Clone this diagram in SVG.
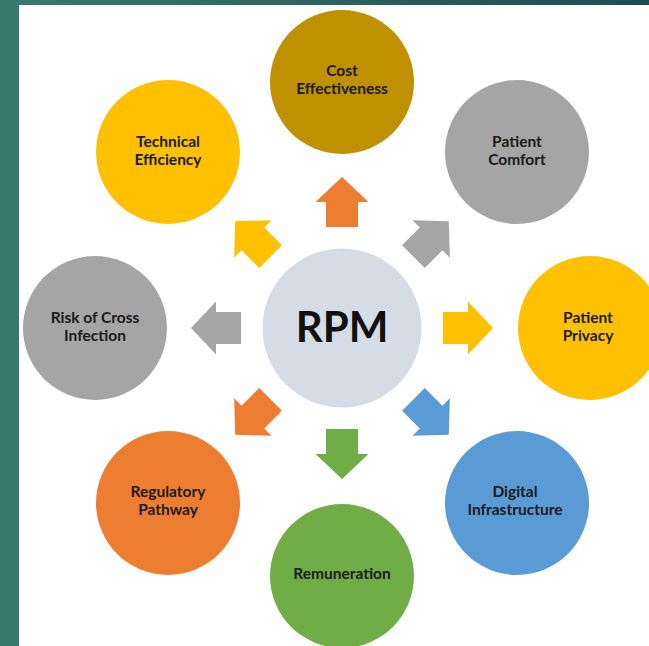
<svg xmlns="http://www.w3.org/2000/svg" width="649" height="646" viewBox="0 0 649 646">
<defs>
<linearGradient id="topband" x1="0" y1="0" x2="1" y2="0">
<stop offset="0" stop-color="#3a7a6e"/>
<stop offset="1" stop-color="#1e4b52"/>
</linearGradient>
<path id="arrow" d="M101,-16 L126,-16 L126,-26.5 L151,0 L126,26.5 L126,16 L101,16 Z"/>
</defs>
<style>
.lbl{font-family:Lato,"Open Sans","Liberation Sans",sans-serif;font-weight:bold;font-size:15.5px;fill:#1a1a1a;text-anchor:middle}
.big{font-family:Lato,"Open Sans","Liberation Sans",sans-serif;font-weight:bold;font-size:42px;fill:#111;text-anchor:middle}
</style>
<rect x="0" y="0" width="649" height="646" fill="#ffffff"/>
<rect x="0" y="0" width="649" height="5" fill="url(#topband)"/>
<rect x="0" y="0" width="19" height="646" fill="#3a7a6e"/>

<g id="connectors" transform="translate(342,328)">
<use href="#arrow" transform="rotate(-90)" fill="#ed7d31"/>
<use href="#arrow" transform="rotate(-45)" fill="#a5a5a5"/>
<use href="#arrow" transform="rotate(0)" fill="#ffc000"/>
<use href="#arrow" transform="rotate(45)" fill="#5b9bd5"/>
<use href="#arrow" transform="rotate(90)" fill="#70ad47"/>
<use href="#arrow" transform="rotate(135)" fill="#ed7d31"/>
<use href="#arrow" transform="rotate(180)" fill="#a5a5a5"/>
<use href="#arrow" transform="rotate(225)" fill="#ffc000"/>
</g>

<g id="rpm">
<circle cx="342" cy="328" r="79.5" fill="#d6dce5"/>
<text class="big" x="342" y="342">RPM</text>
</g>

<g id="cost-effectiveness">
<circle cx="342" cy="82" r="72" fill="#bf9000"/>
<text class="lbl" x="342" y="76">Cost</text>
<text class="lbl" x="342" y="94">Effectiveness</text>
</g>

<g id="patient-comfort">
<circle cx="517" cy="152" r="72" fill="#a5a5a5"/>
<text class="lbl" x="517" y="147">Patient</text>
<text class="lbl" x="517" y="165">Comfort</text>
</g>

<g id="patient-privacy">
<circle cx="590" cy="328" r="72" fill="#ffc000"/>
<text class="lbl" x="588" y="323">Patient</text>
<text class="lbl" x="588" y="341">Privacy</text>
</g>

<g id="digital-infrastructure">
<circle cx="517" cy="503" r="72" fill="#5b9bd5"/>
<text class="lbl" x="515" y="497">Digital</text>
<text class="lbl" x="515" y="515">Infrastructure</text>
</g>

<g id="remuneration">
<circle cx="342" cy="576" r="72" fill="#70ad47"/>
<text class="lbl" x="342" y="579">Remuneration</text>
</g>

<g id="regulatory-pathway">
<circle cx="168" cy="503" r="72" fill="#ed7d31"/>
<text class="lbl" x="168" y="497">Regulatory</text>
<text class="lbl" x="168" y="515">Pathway</text>
</g>

<g id="risk-of-cross-infection">
<circle cx="95" cy="328" r="72" fill="#a5a5a5"/>
<text class="lbl" x="95" y="323">Risk of Cross</text>
<text class="lbl" x="95" y="341">Infection</text>
</g>

<g id="technical-efficiency">
<circle cx="168" cy="152" r="72" fill="#ffc000"/>
<text class="lbl" x="168" y="147">Technical</text>
<text class="lbl" x="168" y="165">Efficiency</text>
</g>
</svg>
